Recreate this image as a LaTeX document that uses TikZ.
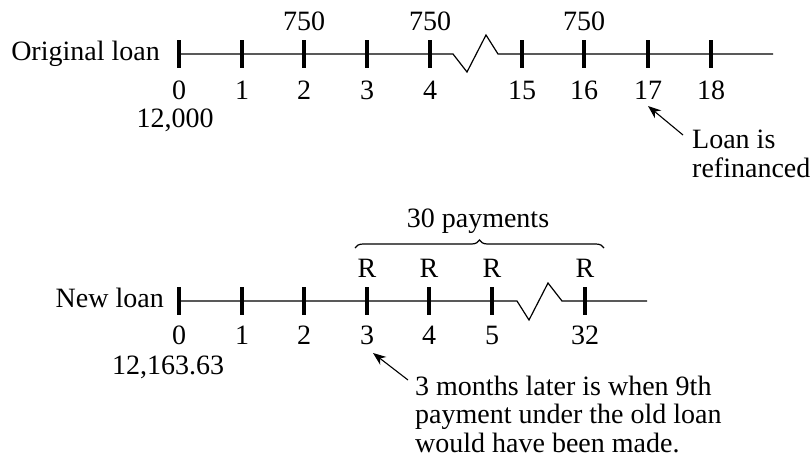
\documentclass[tikz,border=0pt]{standalone}
\usepackage{fontspec}
\setmainfont{Liberation Serif}
\usetikzlibrary{arrows.meta,decorations.pathreplacing}
\begin{document}
\begin{tikzpicture}[x=1pt,y=-1pt,
  axis/.style={line width=1.2pt},
  tickmark/.style={line width=3.4pt},
  lbl/.style={inner sep=0pt, anchor=base, font=\fontsize{28}{29}\selectfont},
  pointer/.style={line width=1.1pt, -{Stealth[length=13pt,width=10pt]}},
  bracestyle/.style={line width=1.2pt, decorate, decoration={brace, amplitude=8pt}},
]
\useasboundingbox (0,0) rectangle (812,464);

% ---------- Original loan ----------
\node[lbl, anchor=base east] (origlabel) at (160,60) {Original loan};
\draw[axis] (179,54) -- (453,54) -- (467,72) -- (486,35) -- (498,54) -- (773,54);
\foreach \x/\l in {179/0,242/1,304/2,367/3,430/4,522/15,584/16,648/17,711/18} {
  \draw[tickmark] (\x,40) -- (\x,68);
  \node[lbl] (top\l) at (\x,99) {\l};
}
\foreach \x/\n in {304/a,430/b,584/c} {
  \node[lbl] (pay\n) at (\x,30) {750};
}
\node[lbl] (pv1) at (175,127) {12,000};
\node[lbl, anchor=base west] (refiA) at (692,148) {Loan is};
\node[lbl, anchor=base west] (refiB) at (692,177) {refinanced};
\coordinate (refitail) at (683,135);
\coordinate (refitip) at (648,106);
\draw[pointer] (refitail) -- (refitip);

% ---------- New loan ----------
\node[lbl, anchor=base east] (newlabel) at (164,307) {New loan};
\draw[axis] (179,301) -- (517,301) -- (529,320) -- (548,283) -- (562,301) -- (647,301);
\foreach \x/\l in {179/0,242/1,304/2,367/3,429/4,492/5,585/32} {
  \draw[tickmark] (\x,287) -- (\x,315);
  \node[lbl] (bot\l) at (\x,344) {\l};
}
\foreach \x/\n in {367/a,429/b,492/c,585/d} {
  \node[lbl] (R\n) at (\x,277) {R};
}
\coordinate (braceL) at (355,248);
\coordinate (braceR) at (604,248);
\draw[bracestyle] (braceL) -- (braceR);
\node[lbl] (thirty) at (478,227) {30 payments};
\node[lbl] (pv2) at (168,374) {12,163.63};
\node[lbl, anchor=base west] (noteA) at (415,395) {3 months later is when 9th};
\node[lbl, anchor=base west] (noteB) at (415,423.5) {payment under the old loan};
\node[lbl, anchor=base west] (noteC) at (415,452) {would have been made.};
\coordinate (notetail) at (408,380);
\coordinate (notetip) at (373,353);
\draw[pointer] (notetail) -- (notetip);
\end{tikzpicture}
\end{document}
